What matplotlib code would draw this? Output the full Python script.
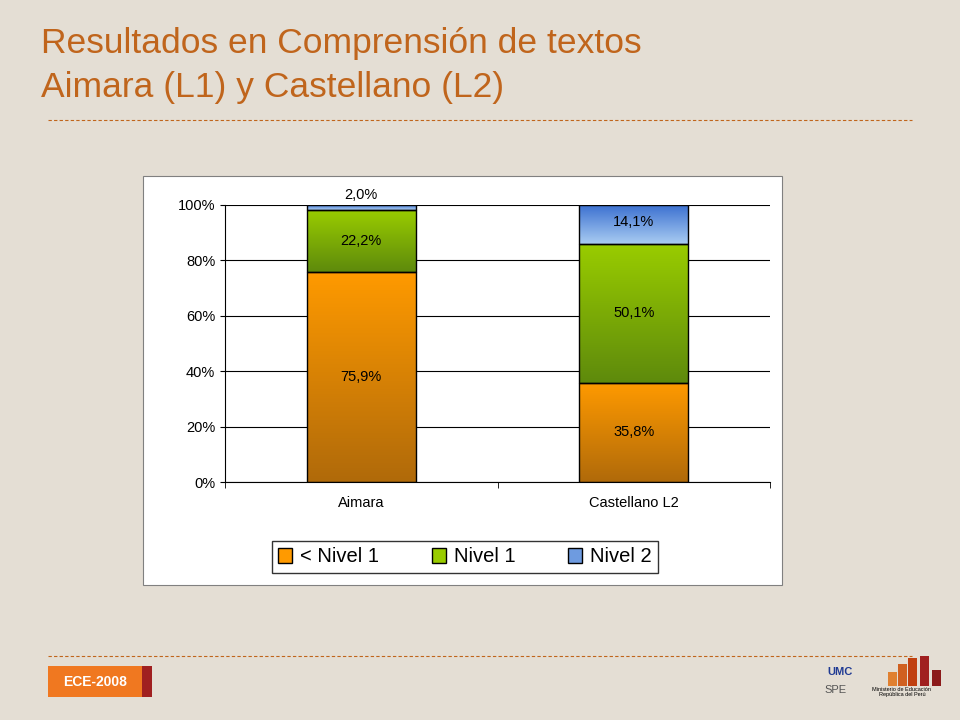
import numpy as np
import matplotlib.pyplot as plt
from matplotlib.patches import Rectangle, Patch

plt.rcParams['font.family'] = ['Liberation Sans', 'DejaVu Sans']

# Datos
categorias = ['Aimara', 'Castellano L2']
bajo_nivel1 = [75.9, 35.8]
nivel1 = [22.2, 50.1]
nivel2 = [2.0, 14.1]
etiquetas_y = ['0%', '20%', '40%', '60%', '80%', '100%']

fondo = '#E4DED4'
W, H = 960, 720
fig = plt.figure(figsize=(9.6, 7.2), dpi=100, facecolor=fondo)

def fx(x): return x / W
def fy(y): return 1 - y / H

# Titulo
fig.text(fx(41), fy(43), 'Resultados en Comprensión de textos', color='#C0651C',
         fontsize=25.5, va='center')
fig.text(fx(41), fy(88), 'Aimara (L1) y Castellano (L2)', color='#C0651C',
         fontsize=25.5, va='center')
fig.add_artist(plt.Line2D([fx(48), fx(912)], [fy(120), fy(120)], color='#C0651C',
                          lw=0.8, ls=(0, (3, 2))))
fig.add_artist(plt.Line2D([fx(48), fx(912)], [fy(656), fy(656)], color='#C0651C',
                          lw=0.8, ls=(0, (3, 2))))

# Caja blanca del grafico
fig.add_artist(Rectangle((fx(143), fy(585)), fx(782 - 143), (585 - 176) / H,
                         facecolor='white', edgecolor='#808080', lw=0.8, zorder=-5))

ax = fig.add_axes([fx(225), fy(482), fx(770 - 225), (482 - 205) / H])
ax.set_facecolor('white')
x = np.arange(len(categorias))
ancho = 0.4
ax.set_xlim(-0.5, 1.5)
ax.set_ylim(0, 100)

def barra_grad(xc, base, alto, c_arriba, c_abajo):
    r = ax.bar(xc, alto, ancho, bottom=base, color='none', edgecolor='black', lw=1, zorder=3)[0]
    c1 = np.array(plt.matplotlib.colors.to_rgb(c_arriba))
    c2 = np.array(plt.matplotlib.colors.to_rgb(c_abajo))
    t = np.linspace(0, 1, 100)[:, None]
    img = (c1 * (1 - t) + c2 * t)[:, None, :]
    im = ax.imshow(img, extent=[xc - ancho / 2, xc + ancho / 2, base + alto, base],
                   aspect='auto', zorder=2, origin='lower')
    im.set_clip_path(r)
    return r

for i in range(len(categorias)):
    b0 = 0
    barra_grad(x[i], b0, bajo_nivel1[i], '#FF9A00', '#B06A0A')
    b0 += bajo_nivel1[i]
    barra_grad(x[i], b0, nivel1[i], '#99CC00', '#5E8A0C')
    b0 += nivel1[i]
    barra_grad(x[i], b0, nivel2[i], '#3A6FD0', '#A9CCF2')

    ax.text(x[i], bajo_nivel1[i] / 2, f'{bajo_nivel1[i]:.1f}%'.replace('.', ','),
            ha='center', va='center', fontsize=10.5, zorder=4)
    ax.text(x[i], bajo_nivel1[i] + nivel1[i] / 2, f'{nivel1[i]:.1f}%'.replace('.', ','),
            ha='center', va='center', fontsize=10.5, zorder=4)
    y2 = 100 + 3.5 if nivel2[i] < 5 else bajo_nivel1[i] + nivel1[i] + nivel2[i] / 2 + 1
    ax.text(x[i], y2, f'{nivel2[i]:.1f}%'.replace('.', ','),
            ha='center', va='center', fontsize=10.5, zorder=4, clip_on=False)

ax.set_yticks(np.arange(0, 101, 20))
ax.set_yticklabels(etiquetas_y, fontsize=10.5)
ax.set_xticks(x)
ax.set_xticklabels(categorias, fontsize=10.5)
ax.set_xticks([-0.5, 0.5, 1.5], minor=True)
ax.tick_params(axis='x', which='major', length=0, pad=10)
ax.tick_params(axis='x', which='minor', length=4, direction='out')
ax.grid(axis='y', color='black', lw=0.8, zorder=0)
for s in ['top', 'right']:
    ax.spines[s].set_visible(False)

# Leyenda
h = [Patch(facecolor='#FF9A00', edgecolor='black'),
     Patch(facecolor='#99CC00', edgecolor='black'),
     Patch(facecolor='#6E9BE0', edgecolor='black')]
fig.legend(h, ['< Nivel 1', 'Nivel 1', 'Nivel 2'], loc='center',
           bbox_to_anchor=(fx(465), fy(557)), ncol=3, fontsize=14.5, frameon=True,
           fancybox=False, edgecolor='black', handlelength=0.7, handleheight=0.7,
           columnspacing=2.6, handletextpad=0.4, borderpad=0.3)

# Pie
fig.add_artist(Rectangle((fx(48), fy(697)), fx(94), 31 / H, facecolor='#F07820', edgecolor='none'))
fig.add_artist(Rectangle((fx(142), fy(697)), fx(10), 31 / H, facecolor='#A02020', edgecolor='none'))
fig.text(fx(95), fy(682), 'ECE-2008', color='white', fontsize=10, fontweight='bold',
         ha='center', va='center')
fig.text(fx(840), fy(672), 'UMC', color='#1F3A93', fontsize=8, fontweight='bold', ha='center', va='center')
fig.text(fx(836), fy(690), 'SPE', color='#555555', fontsize=8, ha='center', va='center')
for xx, hh, cc in [(888, 14, '#E08030'), (898, 22, '#D06020'), (908, 28, '#C04010'),
                   (920, 30, '#A02020'), (932, 16, '#8B1A1A')]:
    fig.add_artist(Rectangle((fx(xx), fy(686)), fx(9), hh / H, facecolor=cc, edgecolor='none'))
fig.text(fx(902), fy(692), 'Ministerio de Educación\nRepública del Perú', fontsize=4,
         ha='center', va='center')

fig.savefig('out.png', dpi=100, facecolor=fondo)
